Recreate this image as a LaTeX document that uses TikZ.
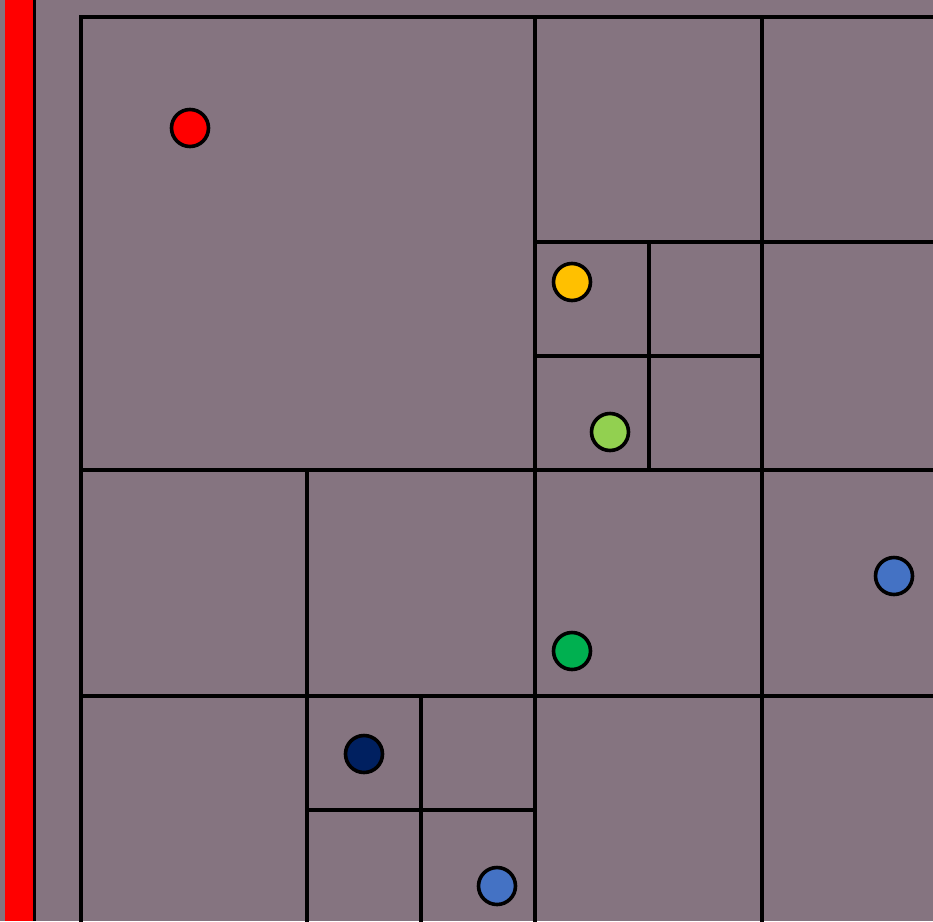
\documentclass[tikz,border=0pt]{standalone}
\usepackage{tikz}
\definecolor{boardMauve}{HTML}{857480}
\definecolor{barRed}{HTML}{FF0000}
\definecolor{dotRed}{HTML}{FF0000}
\definecolor{dotYellow}{HTML}{FFC000}
\definecolor{dotLime}{HTML}{92D050}
\definecolor{dotBlue}{HTML}{4472C4}
\definecolor{dotGreen}{HTML}{00B050}
\definecolor{dotNavy}{HTML}{002060}
\tikzset{
  grid/.style = {draw=black, line width=4.2pt, line cap=rect},
  dot/.style  = {circle, draw=black, line width=3.6pt, minimum size=37pt, inner sep=0pt}
}

\begin{document}
\begin{tikzpicture}[x=1pt, y=-1pt]

  % --- board and left bar
  \fill[boardMauve] (0,0) rectangle (933,921);
  \useasboundingbox (0,0) rectangle (933,921);
  \fill[barRed] (5,0) rectangle (33,921);
  \draw[black, line width=3pt] (34.5,0) -- (34.5,921);

  % --- cell borders
  \draw[grid] (81,921) -- (81,17) -- (940,17);
  \draw[grid] (535,17) -- (535,930);
  \draw[grid] (762,17) -- (762,930);
  \draw[grid] (81,470) -- (940,470);
  \draw[grid] (81,696) -- (940,696);
  \draw[grid] (535,242) -- (940,242);
  \draw[grid] (649,242) -- (649,470);
  \draw[grid] (535,356) -- (762,356);
  \draw[grid] (307,470) -- (307,930);
  \draw[grid] (421,696) -- (421,930);
  \draw[grid] (307,810) -- (535,810);

  % --- dots
  \node[dot, fill=dotRed]    (red)    at (190,128) {};
  \node[dot, fill=dotYellow] (yellow) at (572,282) {};
  \node[dot, fill=dotLime]   (lime)   at (610,432) {};
  \node[dot, fill=dotBlue]   (blueA)  at (894,576) {};
  \node[dot, fill=dotGreen]  (green)  at (572,651) {};
  \node[dot, fill=dotNavy]   (navy)   at (364,754) {};
  \node[dot, fill=dotBlue]   (blueB)  at (497,886) {};
\end{tikzpicture}
\end{document}
